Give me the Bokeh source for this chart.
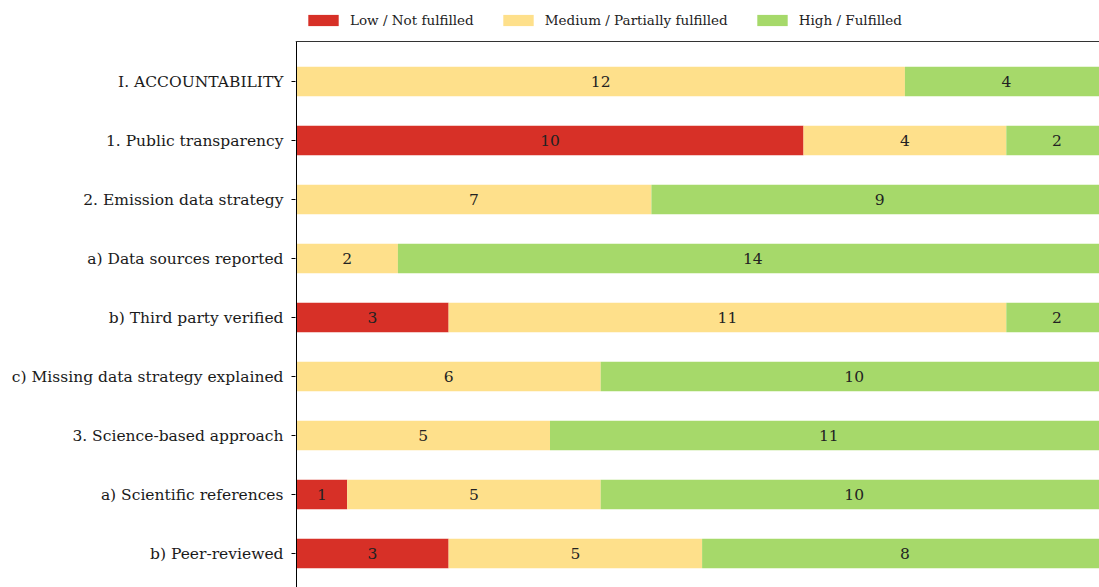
from bokeh.plotting import figure
from bokeh.models import (ColumnDataSource, Range1d, FixedTicker, Span,
                          Legend, LegendItem)
from bokeh.core.properties import value
from bokeh.embed import file_html
from bokeh.resources import INLINE

categories = ["I. ACCOUNTABILITY", "1. Public transparency", "2. Emission data strategy",
              "a) Data sources reported", "b) Third party verified",
              "c) Missing data strategy explained", "3. Science-based approach",
              "a) Scientific references", "b) Peer-reviewed"]
low = [0, 10, 0, 0, 3, 0, 0, 1, 3]
medium = [12, 4, 7, 2, 11, 6, 5, 5, 5]
high = [4, 2, 9, 14, 2, 10, 11, 10, 8]
series_names = ["Low / Not fulfilled", "Medium / Partially fulfilled", "High / Fulfilled"]
colors = ["#d73027", "#fee08b", "#a6d96a"]

FONT = "DejaVu Serif"
n = len(categories)
ypos = [n - 1 - i for i in range(n)]

Y_BOTTOM = -0.576
Y_SPINE = n - 1 + 0.678      # top edge of the axes box
Y_TOP = Y_SPINE + 41 / 59.0  # extra room for the legend

p = figure(width=1099, height=587, output_backend="svg", toolbar_location=None,
           x_range=Range1d(-1 / 50.7, 15.838), y_range=Range1d(Y_BOTTOM, Y_TOP),
           min_border_left=295, min_border_right=0, min_border_top=0, min_border_bottom=0)
p.outline_line_color = None
p.xgrid.visible = False
p.ygrid.visible = False
p.xaxis.visible = False

yax = p.yaxis[0]
yax.ticker = FixedTicker(ticks=ypos)
yax.major_label_overrides = {y: c for y, c in zip(ypos, categories)}
yax.minor_tick_line_color = None
yax.major_tick_in = 0
yax.major_tick_out = 4
yax.major_label_standoff = 8
yax.axis_line_color = None
yax.major_tick_line_color = "#000000"
yax.major_label_text_font = FONT
yax.major_label_text_font_size = "15.5px"
yax.major_label_text_color = "#1a1a1a"

lefts = [0] * n
renderers = []
lab_x, lab_y, lab_t = [], [], []
for vals, col in zip([low, medium, high], colors):
    rights = [l + v for l, v in zip(lefts, vals)]
    src = ColumnDataSource(dict(y=ypos, left=lefts, right=rights))
    r = p.hbar(y="y", left="left", right="right", height=0.5, source=src,
               fill_color=col, line_color=None)
    renderers.append(r)
    for y, l, v in zip(ypos, lefts, vals):
        if v > 0:
            lab_x.append(l + v / 2)
            lab_y.append(y)
            lab_t.append(str(v))
    lefts = rights

p.text(x=lab_x, y=lab_y, text=lab_t, text_align="center", text_baseline="middle",
       text_font=value(FONT), text_font_size="15.5px", text_color="#222222")

# axes spines: top and left
p.add_layout(Span(location=Y_SPINE, dimension="width", line_color="#333333", line_width=1.2))
p.segment(x0=[0], y0=[Y_BOTTOM], x1=[0], y1=[Y_SPINE], line_color="#000000", line_width=1)

lg = Legend(items=[LegendItem(label=nm, renderers=[r]) for nm, r in zip(series_names, renderers)],
            orientation="horizontal", location=(9, 559), spacing=25,
            padding=0, margin=0, border_line_color=None, background_fill_alpha=0,
            glyph_width=38, glyph_height=14, label_height=11, label_standoff=8,
            label_text_font=FONT, label_text_font_size="13.5px",
            label_text_color="#222222")
p.add_layout(lg, "center")

open("out.html", "w").write(file_html(p, INLINE))
